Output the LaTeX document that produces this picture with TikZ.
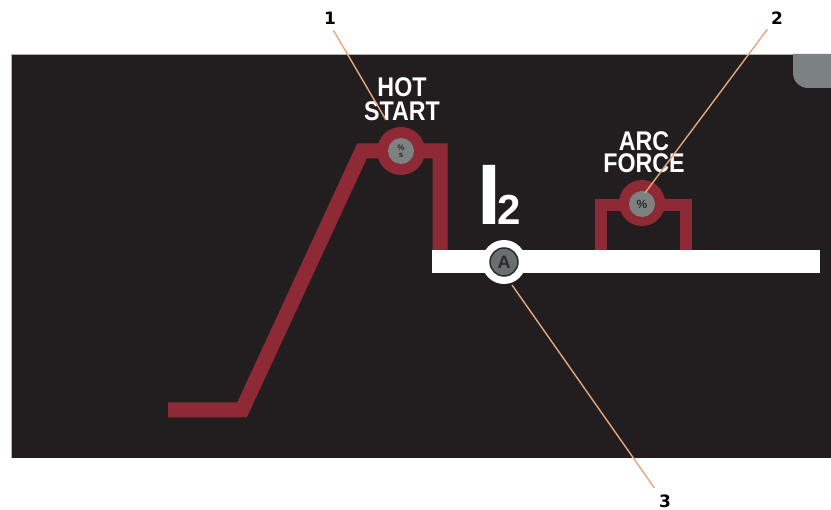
\documentclass[tikz,border=0pt]{standalone}
\usepackage{fontspec}
\setmainfont{Liberation Sans}
\newfontfamily\numfont{DejaVu Sans}
\definecolor{panel}{HTML}{221E1F}
\definecolor{wred}{HTML}{8E2A35}
\definecolor{knob}{HTML}{7C8182}
\definecolor{leadc}{HTML}{E8A67C}
\definecolor{glyph}{HTML}{2B2B2B}
\tikzset{
  redline/.style={draw=wred, line width=15pt, line join=miter},
  ring/.style={circle, fill=wred, inner sep=0pt, minimum size=48pt},
  knobc/.style={circle, fill=knob, inner sep=0pt, minimum size=25pt},
  paneltext/.style={text=white, inner sep=0pt, align=center, font=\bfseries\fontsize{27}{24}\selectfont, xscale=0.86},
  leader/.style={draw=leadc, line width=1.4pt},
  numlabel/.style={inner sep=0pt, font=\numfont\bfseries\fontsize{17}{17}\selectfont, text=black}
}
\begin{document}
\begin{tikzpicture}[x=1pt,y=-1pt]
\useasboundingbox (0,0) rectangle (831,510);
\fill[white] (0,0) rectangle (831,510);
% panel
\fill[panel] (11,54) rectangle (831,458);
\draw[gray!60, line width=1pt] (11.5,458) -- (11.5,54.5) -- (831,54.5);
% grey corner
\fill[knob] (793,54) -- (793,73) .. controls (793,81.3) and (799.7,88) .. (808,88) -- (831,88) -- (831,54) -- cycle;

% hot start curve
\draw[redline] (168,410) -- (242,410) -- (362,151) -- (440,151) -- (440,251);
% arc force bracket
\draw[redline, line width=12pt] (601,251) -- (601,205) -- (686,205) -- (686,251);

% white bar
\fill[white] (432,250) rectangle (820,273);

% knobs
\node[ring] (hsring) at (401,151) {};
\node[knobc, minimum size=26pt, font=\bfseries\fontsize{8}{7}\selectfont, text=glyph, align=center] (hsknob) at (401,151) {\%\\s};
\node[ring, minimum size=46pt] (afring) at (642,203) {};
\node[knobc, minimum size=26pt, font=\bfseries\fontsize{12}{12}\selectfont, text=glyph] (afknob) at (642,204) {\%};
\node[circle, fill=white, inner sep=0pt, minimum size=44pt] (aring) at (504,262) {};
\node[circle, fill=knob!85!black, draw=glyph, line width=1.5pt, inner sep=0pt, minimum size=28pt, text=glyph, font=\bfseries\fontsize{18}{18}\selectfont] (aknob) at (504,262) {A};

% texts
\node[paneltext, anchor=north] (hotstart) at (402,77.5) {HOT\\START};
\node[paneltext, anchor=north] (arcforce) at (644,131.5) {ARC\\[-2pt]FORCE};
\node[text=white, inner sep=0pt, anchor=base west] (itwo) at (477.5,225)
  {{\bfseries\fontsize{86}{86}\selectfont I}\kern-4.5pt{\bfseries\fontsize{42}{42}\selectfont 2}};

% leaders
\node[numlabel] (l1) at (330,18) {1};
\node[numlabel] (l2) at (777,18) {2};
\node[numlabel] (l3) at (665,501) {3};
\coordinate (p1) at (386,120);
\coordinate (p2) at (645,193);
\coordinate (p3) at (512,285);
\draw[leader, shorten <=7pt] (l1.south) -- (p1);
\draw[leader, shorten <=6pt] (l2.south west) -- (p2);
\draw[leader, shorten <=8pt] (l3.north west) -- (p3);
\end{tikzpicture}
\end{document}
